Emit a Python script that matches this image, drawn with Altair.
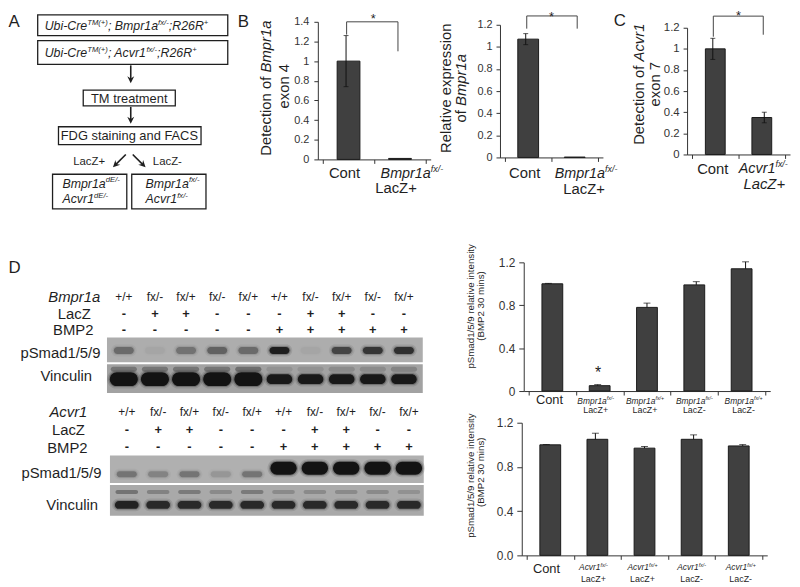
import altair as alt
import pandas as pd

# ---------------- data ----------------
B1_VALUES = [1.0, 0.01]
B1_ERRORS = [0.26, 0.0]
B1_TICKS = [0, 0.2, 0.4, 0.6, 0.8, 1, 1.2, 1.4]

B2_VALUES = [1.07, 0.003]
B2_ERRORS = [0.05, 0.0]
B2_TICKS = [0, 0.2, 0.4, 0.6, 0.8, 1, 1.2]

C_VALUES = [1.0, 0.35]
C_ERRORS = [0.10, 0.05]
C_TICKS = [0, 0.2, 0.4, 0.6, 0.8, 1, 1.2]

D1_VALUES = [1.0, 0.05, 0.78, 0.99, 1.14]
D1_ERRORS = [0.004, 0.01, 0.04, 0.03, 0.065]
D2_VALUES = [1.0, 1.05, 0.97, 1.05, 0.99]
D2_ERRORS = [0.003, 0.055, 0.015, 0.04, 0.012]
D_TICKS = [0, 0.4, 0.8, 1.2]
D_GENO = ["fx/-", "fx/+", "fx/-", "fx/+"]
D_LACZ = ["LacZ+", "LacZ+", "LacZ-", "LacZ-"]

LANE_GENO = ["+/+", "fx/-", "fx/+", "fx/-", "fx/+", "+/+", "fx/-", "fx/+", "fx/-", "fx/+"]
LANE_LACZ = ["-", "+", "+", "-", "-", "-", "+", "+", "-", "-"]
LANE_BMP2 = ["-", "-", "-", "-", "-", "+", "+", "+", "+", "+"]

BLOT1_PSMAD = [0.35, 0.03, 0.3, 0.4, 0.35, 0.9, 0.03, 0.6, 0.7, 0.75]
BLOT1_VINC = [1, 1, 1, 1, 1, 0.95, 0.95, 0.95, 0.95, 0.95]
BLOT1_VINC_SMEAR = [0.3, 0.3, 0.3, 0.3, 0.35, 0.1, 0.1, 0.15, 0.15, 0.2]
BLOT2_PSMAD = [0.3, 0.22, 0.3, 0.12, 0.3, 1, 1, 1, 1, 1]
BLOT2_VINC = [0.85, 0.8, 0.8, 0.8, 0.8, 0.8, 0.8, 0.8, 0.8, 0.8]
BLOT2_VINC_TOP = [0.35, 0.25, 0.3, 0.2, 0.3, 0.2, 0.2, 0.2, 0.2, 0.15]

# ---------------- layout helpers ----------------
W, H = 792, 579
M = 8
FONT = "Liberation Sans"
INK = "#1f1f1f"


def px(x):
    return round(x - M, 2)


def py(y):
    return round(y - M, 2)


CW = {' ': 278, '(': 333, ')': 333, '*': 389, '+': 584, ',': 278, '-': 333, '.': 278, '/': 278,
      '0': 556, '1': 556, '2': 556, '3': 556, '4': 556, '5': 556, '6': 556, '7': 556, '8': 556,
      '9': 556, ';': 278, 'A': 667, 'B': 667, 'C': 722, 'D': 722, 'E': 667, 'F': 611, 'G': 778,
      'L': 556, 'M': 833, 'P': 667, 'R': 722, 'S': 667, 'T': 611, 'U': 722, 'V': 667, 'Z': 611,
      'a': 556, 'b': 556, 'c': 500, 'd': 556, 'e': 556, 'f': 278, 'g': 556, 'i': 222, 'l': 222,
      'm': 833, 'n': 556, 'o': 556, 'p': 556, 'r': 333, 's': 500, 't': 278, 'u': 556, 'v': 500,
      'x': 500, 'y': 500}


def tw(s, size):
    return sum(CW.get(c, 556) for c in s) * size / 1000.0


TEXT = []


def rich(parts, x, y, size, align="center", angle=0):
    sup = 0.62
    ws = [tw(t, size * (sup if s else 1)) for t, it, s in parts]
    total = sum(ws)
    pos = -{"left": 0, "center": total / 2, "right": total}[align]
    for (t, it, s), w in zip(parts, ws):
        fs = size * (sup if s else 1)
        lift = 0.42 * size if s else 0
        if angle == 0:
            bx, by = x + pos, y + 0.35 * size - lift
        else:
            bx, by = x + 0.35 * size - lift, y - pos
        TEXT.append({"t": t, "x": px(bx), "y": py(by), "s": round(fs, 2),
                     "it": bool(it), "ang": int(angle)})
        pos += w


def plain(t, x, y, size, italic=False, align="center", angle=0):
    rich([(t, italic, False)], x, y, size, align, angle)


layers = []

# ---------------- panel A: flowchart ----------------
boxes = pd.DataFrame([(38, 230, 12, 33), (38, 230, 38, 62), (84, 177, 88, 104),
                      (59, 203, 125, 143), (53, 128, 173, 208), (133, 208, 173, 208)],
                     columns=["x", "x2", "y", "y2"])
boxes[["x", "x2"]] = boxes[["x", "x2"]].apply(lambda c: c - M)
boxes[["y", "y2"]] = boxes[["y", "y2"]].apply(lambda c: c - M)
layers.append(alt.Chart(boxes).mark_rect(fill="white", stroke=INK, strokeWidth=1.3).encode(
    x=alt.X("x:Q", scale=None), x2="x2:Q", y=alt.Y("y:Q", scale=None), y2="y2:Q"))

shafts = pd.DataFrame([(132, 63, 132, 78), (132, 105, 132, 119), (127, 153, 117, 163),
                       (134, 153, 144, 163)], columns=["x", "y", "x2", "y2"])
shafts[["x", "x2"]] = shafts[["x", "x2"]].apply(lambda c: c - M)
shafts[["y", "y2"]] = shafts[["y", "y2"]].apply(lambda c: c - M)
layers.append(alt.Chart(shafts).mark_rule(color=INK, strokeWidth=1.6).encode(
    x=alt.X("x:Q", scale=None), x2="x2:Q", y=alt.Y("y:Q", scale=None), y2="y2:Q"))

heads = pd.DataFrame([(132, 77.5, 0), (132, 118.5, 0), (116.5, 163.5, 45), (144.5, 163.5, 315)],
                     columns=["x", "y", "a"])
heads["x"] = heads["x"] - M
heads["y"] = heads["y"] - M
layers.append(alt.Chart(heads).mark_point(
    shape="M -1 -1 L 0 1 L 1 -1 L 0 -0.35 Z", filled=True, color=INK, opacity=1, size=49).encode(
    x=alt.X("x:Q", scale=None), y=alt.Y("y:Q", scale=None), angle=alt.Angle("a:Q", scale=None)))

plain("A", 8.5, 18, 17, align="left")
rich([("Ubi-Cre", 1, 0), ("TM(+)", 1, 1), ("; Bmpr1a", 1, 0), ("fx/-", 1, 1), (";R26R", 1, 0),
      ("+", 1, 1)], 45, 23, 12.5, align="left")
rich([("Ubi-Cre", 1, 0), ("TM(+)", 1, 1), ("; Acvr1", 1, 0), ("fx/-", 1, 1), (";R26R", 1, 0),
      ("+", 1, 1)], 45, 50, 12.5, align="left")
plain("TM treatment", 130.5, 96, 13)
plain("FDG staining and FACS", 131, 134, 13)
plain("LacZ+", 90, 160, 11.5)
plain("LacZ-", 169, 160, 11.5)
rich([("Bmpr1a", 1, 0), ("dE/-", 1, 1)], 63, 182, 12.5, align="left")
rich([("Acvr1", 1, 0), ("dE/-", 1, 1)], 63, 198, 12.5, align="left")
rich([("Bmpr1a", 1, 0), ("fx/-", 1, 1)], 147, 182, 12.5, align="left")
rich([("Acvr1", 1, 0), ("fx/-", 1, 1)], 147, 198, 12.5, align="left")

# ---------------- bar panels ----------------


def bar_panel(values, errors, xr, yr, ydom, yticks, yfmt, barw, capw, lab_size, lab_pad,
              upper_only=False, bar_color="#404040"):
    n = len(values)
    sx = alt.Scale(domain=[0, n], range=[px(xr[0]), px(xr[1])], nice=False, zero=False)
    sy = alt.Scale(domain=ydom, range=[py(yr[0]), py(yr[1])], nice=False, zero=False)
    df = pd.DataFrame({"pos": [k + 0.5 for k in range(n)], "v": values, "e": errors})
    yaxis = alt.Axis(orient="left", offset=-px(xr[0]), values=yticks, format=yfmt,
                     labelFontSize=lab_size, labelPadding=lab_pad, tickSize=4 if not upper_only else 5,
                     title=None, grid=False, domainColor="#333", tickColor="#333",
                     labelColor="#333", labelFont=FONT)
    xaxis = alt.Axis(orient="bottom", offset=py(yr[0]) - H, values=list(range(n + 1)),
                     labels=False, tickSize=4, title=None, grid=False,
                     domainColor="#333", tickColor="#333")
    out = [alt.Chart(df).mark_bar(size=barw, orient="vertical", color=bar_color,
                                  stroke="#1a1a1a", strokeWidth=1).encode(
        x=alt.X("pos:Q", scale=sx, axis=xaxis), y=alt.Y("v:Q", scale=sy, axis=yaxis))]
    de = df[df.e > 0].copy()
    de["lo"] = de.v if upper_only else de.v - de.e
    de["hi"] = de.v + de.e
    out.append(alt.Chart(de).mark_rule(color="#111", strokeWidth=1).encode(
        x=alt.X("pos:Q", scale=sx, axis=None), y=alt.Y("lo:Q", scale=sy, axis=None), y2="hi:Q"))
    caps = pd.concat([de[["pos"]].assign(c=de.hi)] + ([] if upper_only else [de[["pos"]].assign(c=de.v - de.e)]))
    out.append(alt.Chart(caps).mark_tick(orient="horizontal", size=capw, thickness=1, color="#111").encode(
        x=alt.X("pos:Q", scale=sx, axis=None), y=alt.Y("c:Q", scale=sy, axis=None)))
    return out, sx, sy


def bracket(sx, sy, xl, xrr, ytop, yl, yr_):
    df = pd.DataFrame({"x": [xl, xl, xrr], "x2": [xrr, xl, xrr],
                       "y": [ytop, ytop, ytop], "y2": [ytop, yl, yr_]})
    return alt.Chart(df).mark_rule(color="#444", strokeWidth=1).encode(
        x=alt.X("x:Q", scale=sx, axis=None), x2="x2:Q",
        y=alt.Y("y:Q", scale=sy, axis=None), y2="y2:Q")


# B1
lay, sx, sy = bar_panel(B1_VALUES, B1_ERRORS, (321, 435), (158, 19), [0, 1.4], B1_TICKS, "~g",
                        23, 5, 11, 5)
layers += lay
layers.append(bracket(sx, sy, 0.51, 1.42, 1.4, 1.27, 1.1))
plain("B", 240, 18, 17, align="left")
plain("*", 377, 16, 13)
rich([("Detection of ", 0, 0), ("Bmpr1a", 1, 0)], 268, 86, 15, angle=270)
plain("exon 4", 287, 84, 15, angle=270)
plain("Cont", 348, 172, 15)
rich([("Bmpr1a", 1, 0), ("fx/-", 1, 1)], 416, 172, 14.5)
plain("LacZ+", 400, 187, 15)

# B2
lay, sx, sy = bar_panel(B2_VALUES, B2_ERRORS, (505, 609), (156, 22), [0, 1.2], B2_TICKS, "~g",
                        21, 5, 11, 4)
layers += lay
layers.append(bracket(sx, sy, 0.52, 1.5, 1.28, 1.165, 1.165))
plain("*", 557, 13.5, 13)
plain("Relative expression", 450, 86, 15, angle=270)
rich([("of ", 0, 0), ("Bmpr1a", 1, 0)], 465, 86, 15, angle=270)
plain("Cont", 530, 172, 15)
rich([("Bmpr1a", 1, 0), ("fx/-", 1, 1)], 592, 172, 14.5)
plain("LacZ+", 590, 188, 15)

# C
lay, sx, sy = bar_panel(C_VALUES, C_ERRORS, (694, 798), (153, 25), [0, 1.2], C_TICKS, "~g",
                        20, 5, 11.5, 4)
layers += lay
layers.append(bracket(sx, sy, 0.51, 1.48, 1.31, 1.115, 1.134))
plain("C", 620, 17, 17, align="left")
plain("*", 746, 13, 13)
rich([("Detection of ", 0, 0), ("Acvr1", 1, 0)], 645, 82, 15, angle=270)
plain("exon 7", 661, 82, 15, angle=270)
plain("Cont", 720, 167, 15)
rich([("Acvr1", 1, 0), ("fx/-", 1, 1)], 771, 167, 14.5)
plain("LacZ+", 772, 183, 15, italic=True)

# D1
lay, sx, sy = bar_panel(D1_VALUES, D1_ERRORS, (529, 778), (392, 262), [0, 1.2], D_TICKS, "~g",
                        21, 7, 12, 4, upper_only=True)
layers += lay
plain("*", 604, 373, 16)
plain("pSmad1/5/9 relative  intensity", 475, 305, 9.8, angle=270)
plain("(BMP2 30 mins)", 485, 306, 9.8, angle=270)
plain("Cont", 555, 401, 13)
for k, (g, l) in enumerate(zip(D_GENO, D_LACZ)):
    cx = 529 + (k + 1.5) * (778 - 529) / 5 - 2
    rich([("Bmpr1a", 1, 0), (g, 1, 1)], cx, 402, 8.5)
    plain(l, cx, 411, 9)

# D2
lay, sx, sy = bar_panel(D2_VALUES, D2_ERRORS, (527, 775), (558, 424), [0, 1.2], D_TICKS, ".1f",
                        21, 7, 12, 4, upper_only=True)
layers += lay
plain("pSmad1/5/9 relative  intensity", 475, 476, 9.8, angle=270)
plain("(BMP2 30 mins)", 485, 474, 9.8, angle=270)
plain("Cont", 552, 571, 13)
for k, (g, l) in enumerate(zip(D_GENO, D_LACZ)):
    cx = 527 + (k + 1.5) * (775 - 527) / 5 - 2
    rich([("Acvr1", 1, 0), (g, 1, 1)], cx, 570, 8.5)
    plain(l, cx, 582, 9)

# ---------------- panel D: blots ----------------
bg = pd.DataFrame([(108, 427, 338, 363, "#adadad"), (108, 427, 365, 394, "#a2a2a2"),
                   (111, 428, 457, 485, "#b0b0b0"), (111, 428, 487, 518, "#a9a9a9")],
                  columns=["x", "x2", "y", "y2", "c"])
bg[["x", "x2"]] = bg[["x", "x2"]].apply(lambda c: c - M)
bg[["y", "y2"]] = bg[["y", "y2"]].apply(lambda c: c - M)
layers.append(alt.Chart(bg).mark_rect().encode(
    x=alt.X("x:Q", scale=None), x2="x2:Q", y=alt.Y("y:Q", scale=None), y2="y2:Q",
    fill=alt.Fill("c:N", scale=None)))

R1 = (125, 408)
R2 = (128, 413)


def lane_scale(r):
    return alt.Scale(domain=[0, 9], range=[px(r[0]), px(r[1])], nice=False, zero=False)


def bands(lanes, ops, rng, yc, h, hw, halo=True):
    out = []
    df = pd.DataFrame({"lane": lanes, "op": ops})
    specs = [(hw + 0.09, h + 5, 0.12), (hw + 0.04, h + 2, 0.25), (hw, h, 0.95)] if halo else [(hw, h, 1.0)]
    for w, hh, f in specs:
        d = df.copy()
        d["a"] = d.lane - w
        d["b"] = d.lane + w
        d["o"] = d.op * f
        out.append(alt.Chart(d).mark_rect(color="#0e0e0e", cornerRadius=hh / 2).encode(
            x=alt.X("a:Q", scale=lane_scale(rng), axis=None), x2="b:Q",
            y=alt.value(py(yc - hh / 2)), y2=alt.value(py(yc + hh / 2)),
            opacity=alt.Opacity("o:Q", scale=None)))
    return out


L = list(range(10))
layers += bands(L, BLOT1_PSMAD, R1, 351, 7, 0.32)
layers += bands(L, BLOT1_VINC_SMEAR, R1, 370, 5, 0.42, halo=False)
layers += bands(L[:5], BLOT1_VINC[:5], R1, 380, 14, 0.45)
layers += bands(L[5:], BLOT1_VINC[5:], R1, 380, 10, 0.41)
layers += bands(L[:5], BLOT2_PSMAD[:5], R2, 476, 6, 0.32)
layers += bands(L[5:], BLOT2_PSMAD[5:], R2, 470, 13, 0.42)
layers += bands(L, BLOT2_VINC_TOP, R2, 494, 4, 0.36, halo=False)
layers += bands(L, BLOT2_VINC, R2, 507, 8, 0.38)


def lane_text(labels, rng, yc, size, weight="normal"):
    df = pd.DataFrame({"lane": L, "t": labels})
    return alt.Chart(df).mark_text(font=FONT, fontSize=size, fontWeight=weight, color=INK,
                                   baseline="middle", align="center").encode(
        x=alt.X("lane:Q", scale=lane_scale(rng), axis=None), y=alt.value(py(yc)), text="t:N")


layers.append(lane_text(LANE_GENO, R1, 297, 12))
layers.append(lane_text(LANE_LACZ, R1, 314, 13, "bold"))
layers.append(lane_text(LANE_BMP2, R1, 330, 13, "bold"))
layers.append(lane_text(LANE_GENO, R2, 413, 12))
layers.append(lane_text(LANE_LACZ, R2, 431, 13, "bold"))
layers.append(lane_text(LANE_BMP2, R2, 449, 13, "bold"))

plain("D", 8.5, 267, 17, align="left")
plain("Bmpr1a", 75, 297, 15, italic=True)
plain("LacZ", 75, 314, 15)
plain("BMP2", 74, 330, 15)
plain("pSmad1/5/9", 61, 353, 15)
plain("Vinculin", 67, 377, 15)
plain("Acvr1", 69, 413, 15, italic=True)
plain("LacZ", 69, 431, 15)
plain("BMP2", 68, 449, 15)
plain("pSmad1/5/9", 62, 475, 15)
plain("Vinculin", 73, 507, 15)

# ---------------- text layers ----------------
tdf = pd.DataFrame(TEXT)
for (it, ang), g in tdf.groupby(["it", "ang"]):
    layers.append(alt.Chart(g.reset_index(drop=True)).mark_text(
        font=FONT, fontStyle="italic" if bool(it) else "normal", align="left",
        baseline="alphabetic", angle=int(ang), color=INK).encode(
        x=alt.X("x:Q", scale=None), y=alt.Y("y:Q", scale=None),
        size=alt.Size("s:Q", scale=None), text="t:N"))

chart = alt.layer(*layers).resolve_scale(
    x="independent", y="independent", opacity="independent", size="independent",
    angle="independent", fill="independent"
).resolve_axis(x="independent", y="independent").properties(
    width=W, height=H, padding=0, autosize=alt.AutoSizeParams(type="none")
).configure(font=FONT).configure_view(stroke=None)

chart.save("out.html", embed_options={"renderer": "svg", "actions": False})
